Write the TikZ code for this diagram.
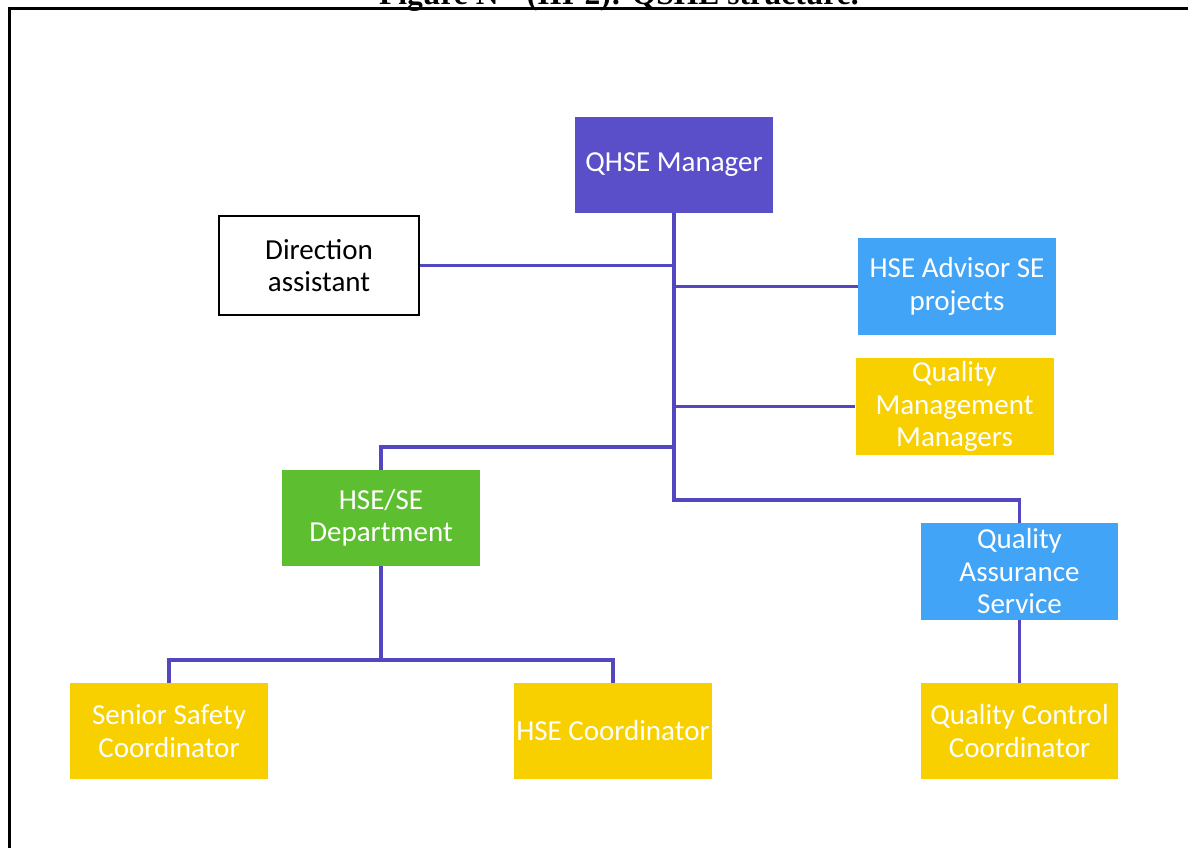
\documentclass[tikz,border=0pt]{standalone}
\usepackage{fontspec}
\setmainfont{Carlito}
\newfontfamily\titlefont{Liberation Serif}
\definecolor{mgrcol}{HTML}{5A4FC9}
\definecolor{bluecol}{HTML}{42A4F6}
\definecolor{goldcol}{HTML}{F8D000}
\definecolor{greencol}{HTML}{5DBE2F}
\definecolor{linkcol}{HTML}{5347C0}
\tikzset{
  unit/.style={rectangle, inner sep=0pt, text=white, align=center,
    font=\fontsize{29}{32.5}\selectfont},
  mgrbox/.style={unit, fill=mgrcol, minimum width=198, minimum height=96},
  bluebox/.style={unit, fill=bluecol, minimum width=198, minimum height=97},
  goldbox/.style={unit, fill=goldcol, minimum width=198, minimum height=96},
  greenbox/.style={unit, fill=greencol, minimum width=198, minimum height=96},
  plainbox/.style={unit, fill=white, draw=black, line width=2.6, text=black,
    minimum width=200, minimum height=99},
  link/.style={draw=linkcol, line width=3.2},
  frame/.style={draw=black, line width=3}
}
\begin{document}
\begin{tikzpicture}[x=1pt, y=-1pt]
\useasboundingbox (0,0) rectangle (1188,848);
\clip (0,0) rectangle (1188,848);

% caption above the frame
\node[anchor=base, inner sep=0pt, font=\titlefont\bfseries\fontsize{31.5}{34}\selectfont]
  (title) at (619,4.5) {Figure N°\ \ (III-2): QSHE structure.};

% page frame
\draw[frame] (9,860) -- (9,9) -- (1200,9);

% units
\node[mgrbox]   (mgr)  at (674,165)     {QHSE Manager};
\node[plainbox] (da)   at (319,265.5)   {Direction\\assistant};
\node[bluebox]  (adv)  at (957,286.5)   {HSE Advisor SE\\projects};
\node[goldbox, minimum height=97] (qmm) at (954.5,406.5) {Quality\\Management\\Managers};
\node[greenbox] (dept) at (381,518)     {HSE/SE\\Department};
\node[bluebox, minimum width=197] (qas) at (1019.5,571.5) {Quality\\Assurance\\Service};
\node[goldbox]  (ssc)  at (169,731)     {Senior Safety\\Coordinator};
\node[goldbox]  (hsec) at (613,731)     {HSE Coordinator};
\node[goldbox, minimum width=197] (qcc) at (1019.5,731) {Quality Control\\Coordinator};

% junction points on the reporting lines
\coordinate (trunkend) at (674,500);
\coordinate (deptjoin) at (674,447);
\coordinate (teamjoin) at (381,660);

% reporting lines
\draw[link] (mgr.south) -- (trunkend) -| (qas.north);
\draw[link] (da.east) -- (da.east -| mgr.south);
\draw[link] (adv.west) -- (adv.west -| mgr.south);
\draw[link] (qmm.west) -- (qmm.west -| mgr.south);
\draw[link] (deptjoin) -| (dept.north);
\draw[link] (dept.south) -- (teamjoin);
\draw[link] (ssc.north) |- (teamjoin) -| (hsec.north);
\draw[link] (qas.south) -- (qcc.north);
\end{tikzpicture}
\end{document}
